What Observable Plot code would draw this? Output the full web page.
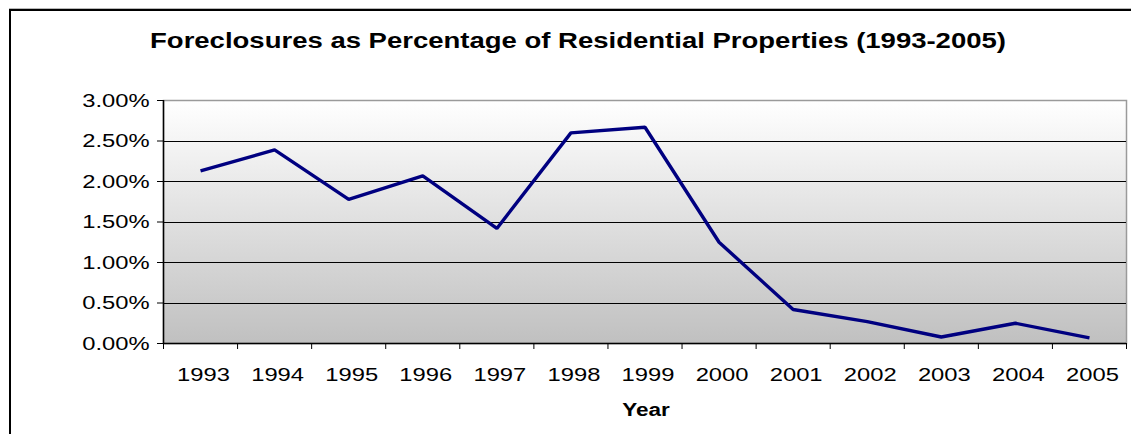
<!DOCTYPE html>
<html><head><meta charset="utf-8">
<script src="https://cdn.jsdelivr.net/npm/d3@7"></script>
<script src="https://cdn.jsdelivr.net/npm/@observablehq/plot@0.6"></script>
<style>
html,body{margin:0;padding:0;background:#fff;}
#wrap{position:relative;width:1139px;height:434px;overflow:hidden;}
#wrap svg{display:block;}
#border{position:absolute;left:9px;top:9px;width:1120px;height:440px;border-top:2px solid #000;border-left:2px solid #000;box-shadow:0 -1px 0 #b8b8b8;}
</style></head><body><div id="wrap"></div>
<script>
const years = [1993, 1994, 1995, 1996, 1997, 1998, 1999, 2000, 2001, 2002, 2003, 2004, 2005];
const rates = [2.13, 2.39, 1.78, 2.07, 1.42, 2.60, 2.67, 1.25, 0.42, 0.27, 0.08, 0.25, 0.07]; // percent
const yTicks = [0, 0.005, 0.01, 0.015, 0.02, 0.025, 0.03];
const gridTicks = [0.005, 0.01, 0.015, 0.02, 0.025];
const titleText = "Foreclosures as Percentage of Residential Properties (1993-2005)";
const xTitle = "Year";

const data = years.map((year, i) => ({year, rate: rates[i] / 100}));
const bounds = years.map(y => y - 0.5).concat([years[years.length - 1] + 0.5]);

const chart = Plot.plot({
  width: 1139,
  height: 434,
  marginLeft: 163,
  marginRight: 13,
  marginTop: 100,
  marginBottom: 91,
  style: {fontFamily: "'Liberation Sans', Arial, sans-serif", fontSize: "19px", color: "#000", background: "#fff"},
  x: {type: "linear", domain: [bounds[0], bounds[bounds.length - 1]], label: null},
  y: {domain: [0, 0.03], label: null},
  marks: [
    Plot.frame({fill: "#c0c0c0", ariaLabel: "bgframe"}),
    Plot.frame({stroke: "#9a9a9a", strokeWidth: 1.5}),
    Plot.ruleY(gridTicks, {stroke: "#000", strokeWidth: 1, shapeRendering: "crispEdges"}),
    Plot.ruleX([bounds[0]], {stroke: "#000", strokeWidth: 1.5}),
    Plot.ruleY([0], {stroke: "#000", strokeWidth: 1.5}),
    Plot.line(data, {x: "year", y: "rate", stroke: "#000080", strokeWidth: 3.4, strokeLinecap: "butt", strokeLinejoin: "miter"}),
    Plot.axisY({ticks: yTicks, tickFormat: d3.format(".2%"), tickSize: 6, tickPadding: 8, fontSize: 19, stroke: "#000"}),
    Plot.axisX({ticks: bounds, tickFormat: () => "", tickSize: 6, stroke: "#000"}),
    Plot.axisX({ticks: years, tickFormat: d => String(d), tickSize: 0, tickPadding: 24, fontSize: 19, dx: 3}),
    Plot.text([titleText], {frameAnchor: "top", dx: -67, dy: -60, lineAnchor: "middle", fontSize: 22, fontWeight: "bold", ariaLabel: "charttitle"}),
    Plot.text([xTitle], {frameAnchor: "bottom", dx: 1, dy: 67, lineAnchor: "middle", fontSize: 18, fontWeight: "bold", ariaLabel: "xtitle"})
  ]
});

// gradient background for the plot area
const svg = d3.select(chart);
const grad = svg.insert("defs", ":first-child").append("linearGradient")
  .attr("id", "bggrad").attr("x1", 0).attr("y1", 0).attr("x2", 0).attr("y2", 1);
grad.append("stop").attr("offset", "0%").attr("stop-color", "#ffffff");
grad.append("stop").attr("offset", "100%").attr("stop-color", "#c0c0c0");
chart.querySelectorAll('[aria-label="bgframe"]').forEach(el => {
  const r = el.tagName.toLowerCase() === "rect" ? el : el.querySelector("rect");
  if (r) r.setAttribute("fill", "url(#bggrad)");
});

const wrap = document.getElementById("wrap");
wrap.appendChild(chart);
const border = document.createElement("div");
border.id = "border";
wrap.appendChild(border);

// horizontally widen text like the reference rendering
chart.querySelectorAll("text").forEach(t => {
  const isTitle = t.closest('[aria-label="charttitle"]');
  const isXTitle = t.closest('[aria-label="xtitle"]');
  const k = isTitle ? 1.21 : isXTitle ? 1.18 : 1.25;
  const L = t.getComputedTextLength();
  if (L > 0) {
    t.setAttribute("textLength", (L * k).toFixed(2));
    t.setAttribute("lengthAdjust", "spacingAndGlyphs");
  }
});
</script>
</body></html>
